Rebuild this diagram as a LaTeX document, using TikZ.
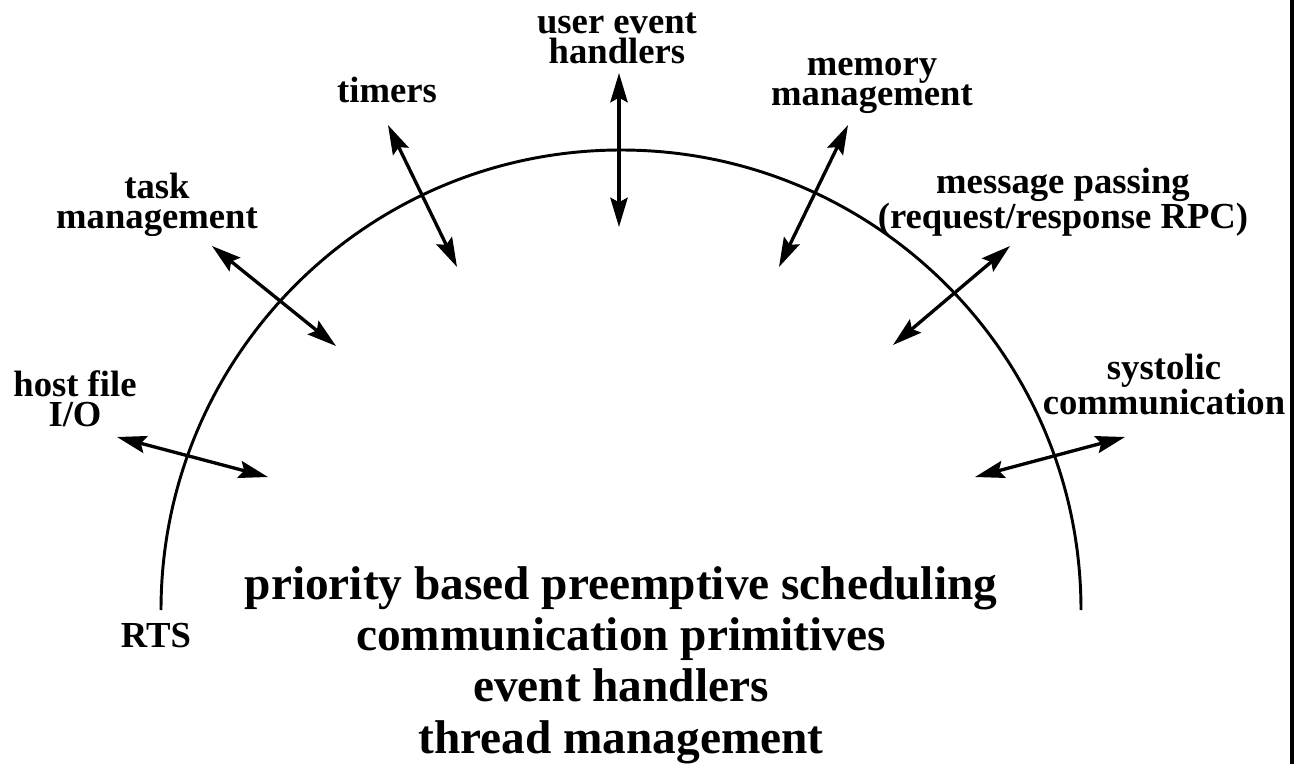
\documentclass[tikz,border=0pt]{standalone}
\usepackage{fontspec}
\setmainfont{Liberation Serif}
\usetikzlibrary{arrows.meta}
\begin{document}
\begin{tikzpicture}[x=0.75pt,y=-0.75pt,
  lbl/.style={font=\bfseries\fontsize{27.5}{22.5}\selectfont, align=center, anchor=base, inner sep=0pt},
  core/.style={font=\bfseries\fontsize{35.5}{38.5}\selectfont, align=center, anchor=base, inner sep=0pt},
  tip/.tip={Stealth[length=22pt,width=13pt,inset=3.5pt]},
  link/.style={line width=2.5pt, tip-tip},
  ring/.style={line width=2.2pt},
  ]
\useasboundingbox (0,0) rectangle (1303,764);

% run-time system boundary
\coordinate (rtsL) at (161,610);
\draw[ring] (rtsL) arc[start angle=180, end angle=0, radius=345pt];

% frame edge on the right
\coordinate (edgeT) at (1292,0);
\coordinate (edgeB) at (1292,764);
\draw[line width=3pt] (edgeT) -- (edgeB);

% service labels (base anchor sits on the last line)
\node[lbl] (user)   at (617,63)   {user event\\handlers};
\node[lbl] (timers) at (387,102)  {timers};
\node[lbl] (mem)    at (872,105)  {memory\\management};
\node[lbl] (task)   at (157,228)  {task\\management};
\node[lbl] (msg)    at (1063,228) {message passing\\(request/response RPC)};
\node[lbl] (host)   at (75,426)   {host file\\I/O};
\node[lbl] (syst)   at (1164,414) {systolic\\communication};
\node[lbl] (rts)    at (156,647)  {RTS};

% kernel services inside the boundary
\node[core] (core) at (621,753)
  {priority based preemptive scheduling\\communication primitives\\event handlers\\thread management};

% arrow end points
\coordinate (hostA)  at (117,437);  \coordinate (hostB)  at (268,477);
\coordinate (taskA)  at (212,246);  \coordinate (taskB)  at (336,346);
\coordinate (timA)   at (388,125);  \coordinate (timB)   at (457,267);
\coordinate (userA)  at (619,73);   \coordinate (userB)  at (619,227);
\coordinate (memA)   at (848,125);  \coordinate (memB)   at (779,267);
\coordinate (msgA)   at (1010,246); \coordinate (msgB)   at (893,345);
\coordinate (systA)  at (1125,437); \coordinate (systB)  at (975,477);

\draw[link] (hostA) -- (hostB);
\draw[link] (taskA) -- (taskB);
\draw[link] (timA)  -- (timB);
\draw[link] (userA) -- (userB);
\draw[link] (memA)  -- (memB);
\draw[link] (msgA)  -- (msgB);
\draw[link] (systA) -- (systB);
\end{tikzpicture}
\end{document}
